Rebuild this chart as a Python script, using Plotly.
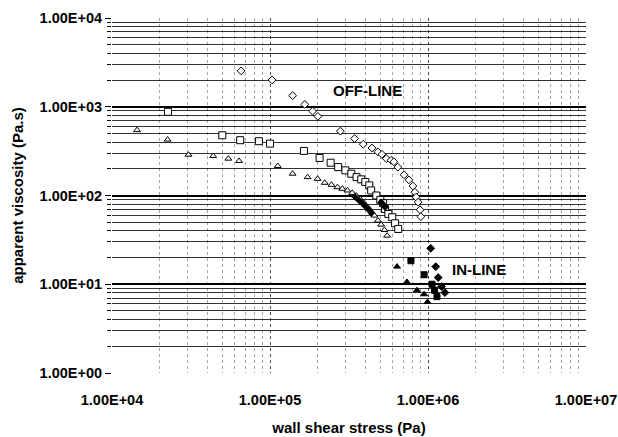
import plotly.graph_objects as go

# Off-line measurements (open markers): wall shear stress (Pa) vs apparent viscosity (Pa.s)
off_diamond_x = [6.56e4, 1.03e5, 1.39e5, 1.66e5, 1.86e5, 2.01e5, 2.79e5, 3.43e5, 3.89e5, 4.42e5,
                 4.82e5, 5.11e5, 5.45e5, 5.84e5, 6.08e5, 6.44e5, 7.06e5, 7.57e5, 8.03e5, 8.26e5,
                 8.41e5, 8.65e5, 8.91e5, 9.01e5]
off_diamond_y = [2535, 2005, 1334, 1062, 893, 778, 531, 438, 378, 343,
                 310, 291, 260, 249, 240, 209, 171, 150, 128, 109,
                 95.8, 84.1, 68.9, 57.8]

off_square_x = [2.26e4, 4.99e4, 6.48e4, 8.51e4, 1.0e5, 1.64e5, 2.06e5, 2.42e5, 2.70e5, 3.00e5,
                3.27e5, 3.53e5, 3.78e5, 4.01e5, 4.25e5, 4.37e5, 4.71e5, 4.99e5, 5.20e5, 5.35e5,
                5.61e5, 5.94e5, 6.19e5, 6.48e5]
off_square_y = [877, 477, 420, 409, 384, 318, 265, 234, 209, 192,
                176, 161, 152, 142, 130, 114, 100, 89.3, 81.9, 70.6,
                62.0, 56.9, 48.6, 42.0]

off_triangle_x = [1.44e4, 2.25e4, 3.05e4, 4.37e4, 5.45e4, 6.37e4, 1.12e5, 1.39e5, 1.73e5, 2.0e5,
                  2.22e5, 2.45e5, 2.67e5, 2.87e5, 3.09e5, 3.31e5, 3.51e5, 3.72e5, 3.89e5, 4.05e5,
                  4.25e5, 4.42e5, 4.58e5, 4.82e5, 5.05e5, 5.30e5, 5.51e5]
off_triangle_y = [545, 426, 288, 279, 260, 245, 215, 176, 161, 154,
                  139, 132, 124, 119, 114, 107, 100, 91.7, 84.1, 77.1,
                  70.6, 64.7, 59.4, 52.2, 47.0, 40.9, 35.3]

# Densely packed filled points along the off-line curves
off_filled_x = [3.47e5, 3.67e5, 3.83e5, 4.01e5, 4.20e5, 4.37e5, 5.05e5, 5.20e5, 5.35e5]
off_filled_y = [95.8, 87.7, 82.6, 75.7, 69.5, 63.7, 84.1, 79.1, 73.8]

# In-line measurements (filled markers)
in_triangle_x = [6.37e5, 7.36e5, 8.51e5, 9.45e5, 9.94e5]
in_triangle_y = [15.8, 10.6, 8.55, 7.71, 6.31]

in_square_x = [7.80e5, 9.45e5, 1.06e6, 1.10e6, 1.14e6]
in_square_y = [18.4, 12.8, 10.0, 8.55, 7.25]

in_diamond_x = [1.04e6, 1.12e6, 1.16e6, 1.22e6, 1.28e6]
in_diamond_y = [25.4, 15.8, 11.9, 9.42, 8.05]

x_tickvals = [1e4, 1e5, 1e6, 1e7]
x_ticktext = ["1.00E+04", "1.00E+05", "1.00E+06", "1.00E+07"]
y_tickvals = [1, 10, 100, 1000, 10000]
y_ticktext = ["1.00E+00", "1.00E+01", "1.00E+02", "1.00E+03", "1.00E+04"]

FONT = "Liberation Sans, Arial, Helvetica, sans-serif"
LABEL_SIZE = 14.5

fig = go.Figure()


def add_series(x, y, symbol, size, fill):
    fig.add_trace(go.Scatter(
        x=x, y=y, mode="markers",
        marker=dict(symbol=symbol, size=size, color=fill,
                    line=dict(color="black", width=1)),
        showlegend=False, hoverinfo="x+y", cliponaxis=False,
    ))


add_series(off_diamond_x, off_diamond_y, "diamond", 6, "white")
add_series(off_square_x, off_square_y, "square", 7, "white")
add_series(off_triangle_x, off_triangle_y, "triangle-up", 6, "white")
add_series(off_filled_x, off_filled_y, "diamond", 5, "black")
add_series(in_triangle_x, in_triangle_y, "triangle-up", 6, "black")
add_series(in_square_x, in_square_y, "square", 6, "black")
add_series(in_diamond_x, in_diamond_y, "diamond", 6, "black")

fig.add_annotation(x=5.616, y=3.181, xref="x", yref="y", text="<b>OFF-LINE</b>",
                   showarrow=False, font=dict(family=FONT, size=15, color="black"))
fig.add_annotation(x=6.324, y=1.162, xref="x", yref="y", text="<b>IN-LINE</b>",
                   showarrow=False, font=dict(family=FONT, size=15, color="black"))

fig.update_layout(
    width=618, height=437,
    margin=dict(l=112, r=32, t=18, b=64),
    paper_bgcolor="white", plot_bgcolor="white",
    font=dict(family=FONT, size=LABEL_SIZE, color="black"),
    xaxis=dict(
        type="log", range=[4, 7], automargin=False,
        tickvals=x_tickvals, ticktext=[f"<b>{t}</b>" for t in x_ticktext],
        tickfont=dict(family=FONT, size=LABEL_SIZE, color="black"),
        ticks="", ticklabelstandoff=16, showline=False, zeroline=False,
        showgrid=True, gridcolor="rgba(0,0,0,0.55)", gridwidth=1, griddash="dot",
        minor=dict(dtick="D1", showgrid=True, gridcolor="rgba(0,0,0,0.35)",
                   griddash="dot", gridwidth=1),
        title=dict(text="<b>wall shear stress (Pa)</b>", font=dict(family=FONT, size=15),
                   standoff=15),
    ),
    yaxis=dict(
        type="log", range=[0, 4], automargin=False,
        tickvals=y_tickvals, ticktext=[f"<b>{t}</b>" for t in y_ticktext],
        tickfont=dict(family=FONT, size=LABEL_SIZE, color="black"),
        ticks="outside", ticklen=6, tickcolor="black",
        showline=False, zeroline=False,
        showgrid=True, gridcolor="black", gridwidth=1.5,
        minor=dict(dtick="D1", showgrid=True, gridcolor="rgba(0,0,0,0.8)", gridwidth=1,
                   ticks="outside", ticklen=4, tickcolor="black"),
        title=dict(text="<b>apparent viscosity (Pa.s)</b>", font=dict(family=FONT, size=15),
                   standoff=12),
    ),
)

fig.write_html("out.html")
